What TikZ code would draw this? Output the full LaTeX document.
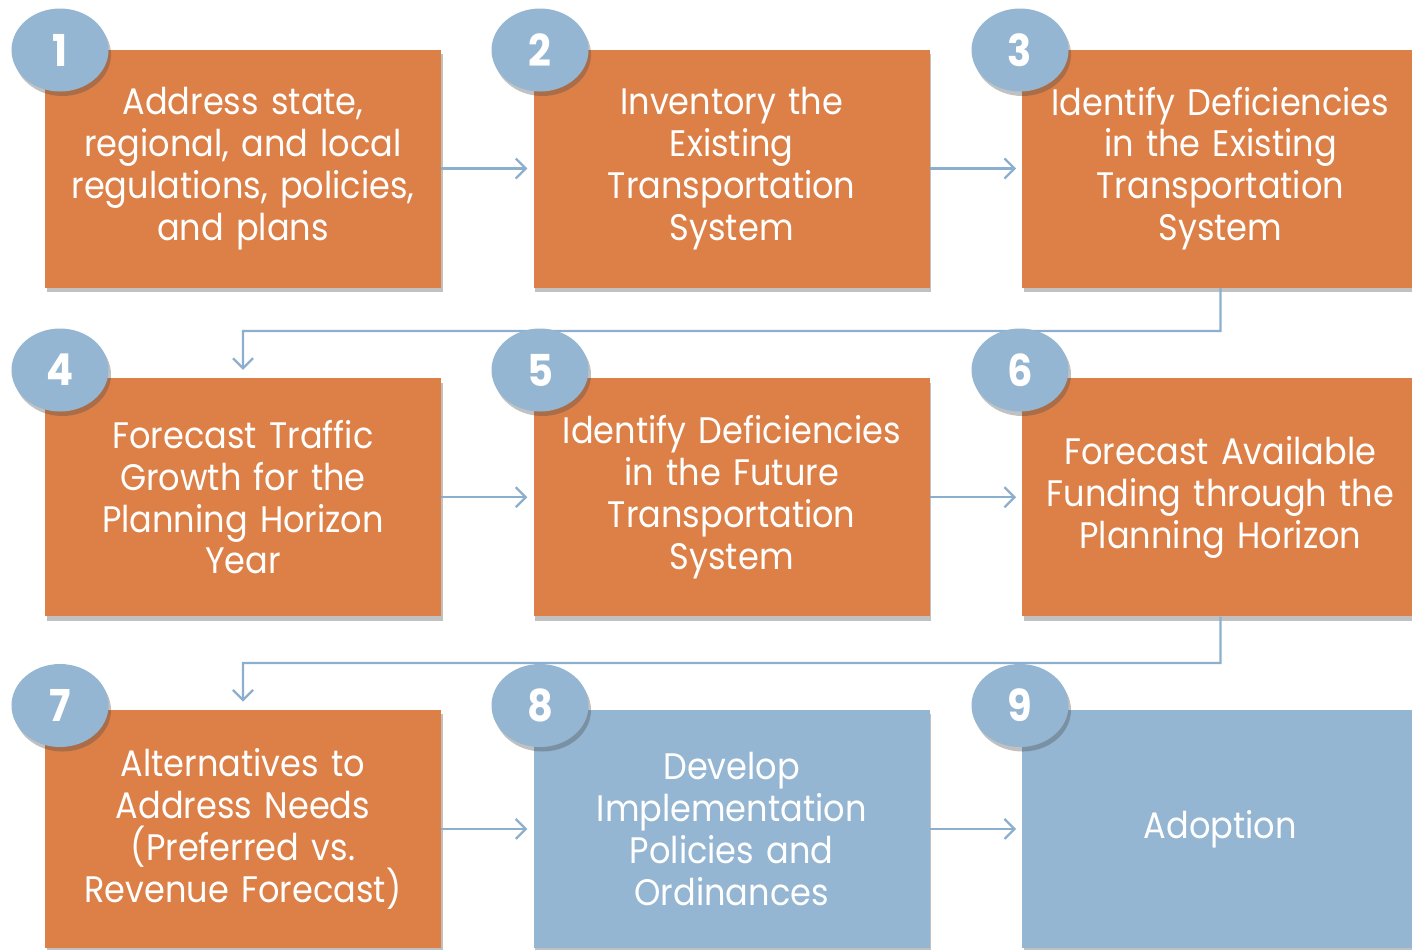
\documentclass[tikz,border=0pt]{standalone}
\usepackage{fontspec}
\setmainfont[FakeStretch=0.91]{Poppins}
\usepackage{tikz}
\usetikzlibrary{arrows.meta, positioning, shapes.geometric, shadows, calc}
\definecolor{colorStep}{HTML}{DD8047}
\definecolor{colorFinal}{HTML}{94B6D2}
\definecolor{colorLink}{HTML}{8DAFCE}
\tikzset{
  stepbox/.style={rectangle, fill=colorStep, minimum width=7.92cm, minimum height=4.76cm,
    text width=7.6cm, align=center, text=white, inner sep=0pt,
    font=\fontsize{21}{23.8}\selectfont,
    drop shadow={shadow xshift=0.03cm, shadow yshift=-0.09cm, opacity=0.35, fill=black!70}},
  finalbox/.style={stepbox, fill=colorFinal},
  badge/.style={ellipse, fill=colorFinal, minimum width=1.94cm, minimum height=1.66cm,
    inner sep=0pt, text=white, font=\fontsize{25}{25}\selectfont\bfseries,
    drop shadow={shadow xshift=0.05cm, shadow yshift=-0.09cm, opacity=0.35, fill=black!70}},
  link/.style={-{Straight Barb[length=0.2cm, width=0.4cm]}, colorLink, line width=1.3pt}
}
\begin{document}
\begin{tikzpicture}[node distance=1.84cm]
\clip (0,0) rectangle (28.24,-18.98);
% the nine steps
\node[stepbox] (s1) at (4.86,-3.37) {Address state,\\regional, and local\\regulations, policies,\\and plans};
\node[stepbox, right=of s1] (s2) {Inventory the\\Existing\\Transportation\\System};
\node[stepbox, right=of s2] (s3) {Identify Deficiencies\\in the Existing\\Transportation\\System};
\node[stepbox, below=1.8cm of s1] (s4) {Forecast Traffic\\Growth for the\\Planning Horizon\\Year};
\node[stepbox, right=of s4] (s5) {Identify Deficiencies\\in the Future\\Transportation\\System};
\node[stepbox, right=of s5] (s6) {Forecast Available\\Funding through the\\Planning Horizon};
\node[stepbox, below=1.86cm of s4] (s7) {Alternatives to\\Address Needs\\(Preferred vs.\\Revenue Forecast)};
\node[finalbox, right=of s7] (s8) {Develop\\Implementation\\Policies and\\Ordinances};
\node[finalbox, right=of s8] (s9) {Adoption};
% links
\draw[link, shorten >=0.12cm] (s1) -- (s2);
\draw[link, shorten >=0.12cm] (s2) -- (s3);
\draw[link, shorten >=0.12cm] (s4) -- (s5);
\draw[link, shorten >=0.12cm] (s5) -- (s6);
\draw[link, shorten >=0.12cm] (s7) -- (s8);
\draw[link, shorten >=0.12cm] (s8) -- (s9);
\coordinate (t1) at ($(s3.south)!0.48!(s6.north)$);
\coordinate (t2) at ($(s6.south)!0.5!(s9.north)$);
\draw[link, shorten >=0.16cm] (s3.south) -- (t1) -| (s4.north);
\draw[link, shorten >=0.16cm] (s6.south) -- (t2) -| (s7.north);
% numbers
\foreach \i/\x/\y in {1/1.2/-1.0, 2/10.8/-1.0, 3/20.4/-1.0,
                      4/1.2/-7.4, 5/10.8/-7.4, 6/20.4/-7.4,
                      7/1.2/-14.11, 8/10.8/-14.11, 9/20.4/-14.11}
  \node[badge] (n\i) at (\x,\y) {\i};
\end{tikzpicture}
\end{document}
